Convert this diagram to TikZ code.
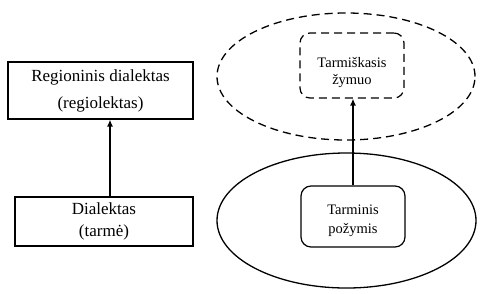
\documentclass[tikz,border=0pt]{standalone}
\usepackage{fontspec}
\setmainfont{Liberation Serif}
\usetikzlibrary{arrows.meta, shapes.geometric}

\begin{document}
\begin{tikzpicture}[
  x=1pt, y=-1pt,
  plainbox/.style={draw, line width=1.2pt, minimum width=#1, inner sep=0pt},
  softbox/.style={draw, line width=1.2pt, rounded corners=10pt, minimum width=104, minimum height=63, inner sep=0pt},
  oval/.style={draw, ellipse, line width=1.3pt, inner sep=0pt},
  arrow/.style={-{Latex[length=7pt, width=6pt]}, line width=1.3pt}
]
\useasboundingbox (0,0) rectangle (484,293);

% left: dialekt hierarchy
\node[plainbox=185, minimum height=57, align=center, font=\fontsize{17}{27}\selectfont] (regdial) at (100.5,90.5) {Regioninis dialektas\\(regiolektas)};
\node[plainbox=178, minimum height=49, align=center, font=\fontsize{17}{22}\selectfont] (dial) at (104,221.5) {Dialektas\\(tarmė)};

% right: features inside ovals
\node[oval, dashed, dash pattern=on 8pt off 5pt, minimum width=258, minimum height=127] (upoval) at (346,76.5) {};
\node[oval, minimum width=259, minimum height=135] (lowoval) at (346.5,220.5) {};
\node[softbox, dashed, dash pattern=on 8pt off 5pt, minimum height=65] (zym) at (352,65.5) {};
\node[softbox, minimum height=61] (pozym) at (353,216.5) {};
\node[align=center, font=\fontsize{14.5}{17}\selectfont] (zymtxt) at ([yshift=-7]zym.center) {Tarmiškasis\\žymuo};
\node[align=center, font=\fontsize{14.5}{19}\selectfont] (pozymtxt) at ([yshift=-4]pozym.center) {Tarminis\\požymis};

\draw[arrow] ([xshift=6]dial.north) -- ([xshift=6]dial.north |- regdial.south);
\draw[arrow] (pozym.north) -- (pozym.north |- zym.south);
\end{tikzpicture}
\end{document}
